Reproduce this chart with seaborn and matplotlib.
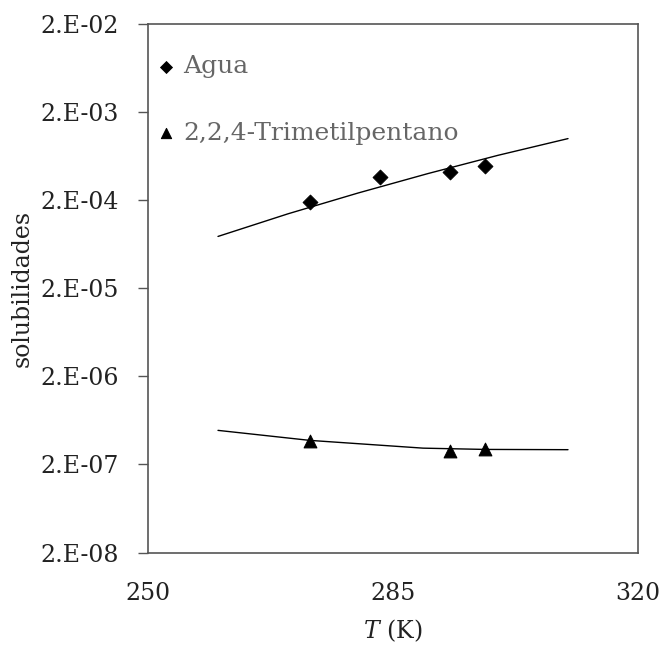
import matplotlib
matplotlib.use("Agg")
import matplotlib.pyplot as plt
import seaborn as sns
import pandas as pd
from matplotlib.ticker import FixedLocator, FixedFormatter, NullLocator

sns.set_theme(style="white")
plt.rcParams['font.family'] = ['DejaVu Serif']
plt.rcParams['mathtext.fontset'] = 'dejavuserif'

# Experimental points
agua_T = [273.15, 283.15, 293.15, 298.15]
agua_x = [1.91e-4, 3.62e-4, 4.20e-4, 4.86e-4]
tmp_T = [273.15, 293.15, 298.15]
tmp_x = [3.68e-7, 2.83e-7, 3.01e-7]

# Model curves
agua_line_T = [260, 270, 280, 290, 300, 310]
agua_line_x = [7.75e-5, 1.40e-4, 2.41e-4, 4.01e-4, 6.46e-4, 1.0e-3]
tmp_line_T = [260, 273.1, 289.3, 298.1, 310]
tmp_line_x = [4.87e-7, 3.75e-7, 3.06e-7, 2.96e-7, 2.94e-7]

yticks = [2e-8, 2e-7, 2e-6, 2e-5, 2e-4, 2e-3, 2e-2]
ytick_labels = ["2.E-08", "2.E-07", "2.E-06", "2.E-05", "2.E-04", "2.E-03", "2.E-02"]
xticks = [250, 285, 320]

fig = plt.figure(figsize=(6.65, 6.45), dpi=100)
ax = fig.add_axes([148/665, 1-552.5/645, 490/665, 528.5/645])

sns.lineplot(x=agua_line_T, y=agua_line_x, ax=ax, color='black', lw=1.0, legend=False)
sns.lineplot(x=tmp_line_T, y=tmp_line_x, ax=ax, color='black', lw=1.0, legend=False)
sns.scatterplot(x=agua_T, y=agua_x, ax=ax, marker='D', s=58, color='black',
                edgecolor='black', label='Agua', zorder=3)
sns.scatterplot(x=tmp_T, y=tmp_x, ax=ax, marker='^', s=85, color='black',
                edgecolor='black', label='2,2,4-Trimetilpentano', zorder=3)

ax.set_yscale('log')
ax.set_ylim(2e-8, 2e-2)
ax.set_xlim(250, 320)
ax.yaxis.set_major_locator(FixedLocator(yticks))
ax.yaxis.set_major_formatter(FixedFormatter(ytick_labels))
ax.yaxis.set_minor_locator(NullLocator())
ax.set_xticks(xticks)
ax.set_xticklabels([str(t) for t in xticks])

for sp in ax.spines.values():
    sp.set_color('#555555')
    sp.set_linewidth(1.2)

ax.tick_params(axis='y', which='major', left=True, length=7, width=1.0, color='#555555',
               labelsize=17, labelcolor='#222222', pad=14)
ax.tick_params(axis='x', which='major', bottom=False, length=0, labelsize=17,
               labelcolor='#222222', pad=21)

ax.set_ylabel('solubilidades', fontsize=17, color='#222222', labelpad=5)
ax.set_xlabel('$T$ (K)', fontsize=17, color='#222222', labelpad=9)

leg = ax.legend(loc='upper left', frameon=False, fontsize=18, markerscale=0.8,
                handlelength=0.6, handletextpad=0.4, labelspacing=1.75,
                borderaxespad=0.0, bbox_to_anchor=(0.0, 0.96))
for t in leg.get_texts():
    t.set_color('#666666')

fig.savefig('out.png', dpi=100)
